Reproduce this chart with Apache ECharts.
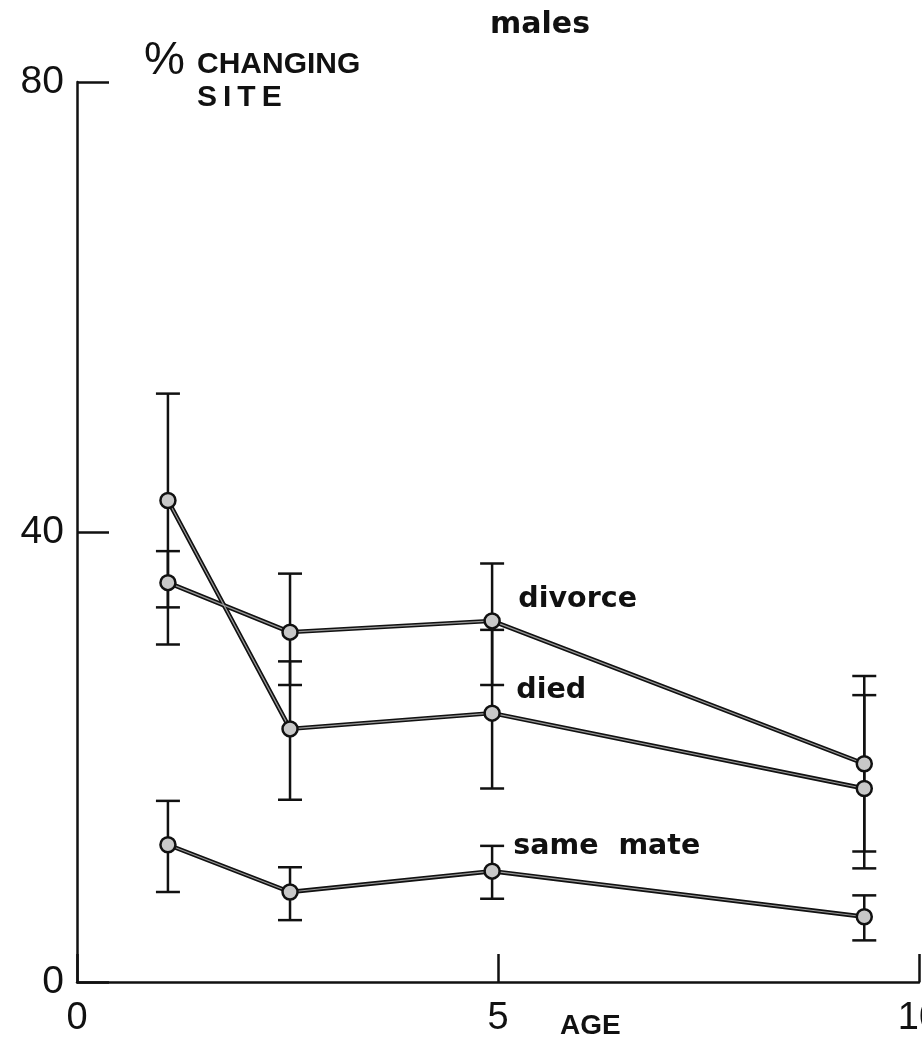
<!DOCTYPE html>
<html><head><meta charset="utf-8">
<script src="https://cdn.jsdelivr.net/npm/echarts@6/dist/echarts.min.js"></script>
<style>html,body{margin:0;padding:0;background:#fff}#c{width:922px;height:1048px}</style>
</head><body><div id="c"></div>
<script>
// ---- data ----
const ages = [1.08, 2.53, 4.93, 9.35];
const xTicks = ['0', '5', '10'];
const yTicks = ['0', '40', '80'];

const divorce     = [35.5, 31.1, 32.1, 19.4];
const divorceLow  = [30.0, 26.4, 26.4, 11.6];
const divorceHigh = [38.3, 36.3, 37.2, 27.2];

const died     = [42.8, 22.5, 23.9, 17.2];
const diedLow  = [33.3, 16.2, 17.2, 10.1];
const diedHigh = [52.3, 28.5, 31.3, 25.5];

const sameMate     = [12.2, 8.0, 9.85, 5.8];
const sameMateLow  = [8.0, 5.5, 7.4, 3.7];
const sameMateHigh = [16.1, 10.2, 12.1, 7.7];

const seriesNames = ['divorce', 'died', 'same  mate'];
// --------------------------------------

const INK = '#111';
const chart = echarts.init(document.getElementById('c'), null, {renderer: 'canvas'});

function errSeries(low, high) {
  return {
    type: 'custom', z: 2, silent: true,
    data: ages.map((a, i) => [a, low[i], high[i]]),
    encode: {x: 0, y: [1, 2]},
    renderItem(params, api) {
      const x = api.value(0);
      const lo = api.coord([x, api.value(1)]);
      const hi = api.coord([x, api.value(2)]);
      const w = 12;
      const style = {stroke: INK, lineWidth: 2.5};
      return {type: 'group', children: [
        {type: 'line', shape: {x1: lo[0], y1: lo[1], x2: hi[0], y2: hi[1]}, style},
        {type: 'line', shape: {x1: lo[0] - w, y1: lo[1], x2: lo[0] + w, y2: lo[1]}, style},
        {type: 'line', shape: {x1: hi[0] - w, y1: hi[1], x2: hi[0] + w, y2: hi[1]}, style}
      ]};
    }
  };
}

function lineSeries(vals, labelText, labelPos) {
  const data = ages.map((a, i) => {
    if (i === 2) {
      return {value: [a, vals[i]], label: {
        show: true, formatter: labelText, position: labelPos,
        align: 'left', verticalAlign: 'middle',
        fontFamily: 'DejaVu Sans', fontWeight: 'bold', fontSize: 28.5, color: INK
      }};
    }
    return [a, vals[i]];
  });
  return [
    {type: 'line', z: 3, silent: true, symbol: 'none', data: ages.map((a, i) => [a, vals[i]]),
     lineStyle: {color: INK, width: 4.5}},
    {type: 'line', z: 4, silent: true, data,
     symbol: 'circle', symbolSize: 15,
     itemStyle: {color: '#c8c8c8', borderColor: INK, borderWidth: 2.5},
     lineStyle: {color: '#999', width: 1.2}}
  ];
}

const option = {
  animation: false,
  backgroundColor: '#fff',
  grid: {left: 77, right: 3, top: 82, bottom: 66, containLabel: false, outerBoundsMode: 'none'},
  xAxis: {
    type: 'value', min: 0, max: 10, interval: 5,
    axisLine: {lineStyle: {color: INK, width: 2.5}},
    axisTick: {inside: true, length: 28, lineStyle: {color: INK, width: 2.5}},
    splitLine: {show: false},
    axisLabel: {margin: 18, fontFamily: 'Liberation Sans', fontSize: 38, color: INK,
      hideOverlap: false, formatter: v => xTicks[Math.round(v / 5)]}
  },
  yAxis: {
    type: 'value', min: 0, max: 80, interval: 40,
    axisLine: {lineStyle: {color: INK, width: 2.5}},
    axisTick: {inside: true, length: 32, lineStyle: {color: INK, width: 2.5}},
    splitLine: {show: false},
    axisLabel: {margin: 13, fontFamily: 'Liberation Sans', fontSize: 39, color: INK,
      formatter: v => yTicks[Math.round(v / 40)]}
  },
  graphic: [
    {type: 'text', left: 490, top: 10, style: {text: 'males', fontFamily: 'DejaVu Sans', fontWeight: 'bold', fontSize: 30, fill: INK}},
    {type: 'text', left: 144, top: 38, style: {text: '%', fontFamily: 'Liberation Sans', fontSize: 46, fill: INK}},
    {type: 'text', left: 197, top: 50, style: {text: 'CHANGING', fontFamily: 'Liberation Sans', fontWeight: 'bold', fontSize: 30, fill: INK}},
    {type: 'text', left: 197, top: 83, style: {text: 'S\u2009I\u2009T\u2009E', fontFamily: 'Liberation Sans', fontWeight: 'bold', fontSize: 30, fill: INK}},
    {type: 'text', left: 560, top: 1012, style: {text: 'AGE', fontFamily: 'Liberation Sans', fontWeight: 'bold', fontSize: 28, fill: INK}}
  ],
  series: [
    errSeries(divorceLow, divorceHigh),
    errSeries(diedLow, diedHigh),
    errSeries(sameMateLow, sameMateHigh),
    ...lineSeries(divorce, seriesNames[0], [35, -13]),
    ...lineSeries(died, seriesNames[1], [33, -14]),
    ...lineSeries(sameMate, seriesNames[2], [30, -16])
  ]
};
chart.setOption(option);
</script>
</body></html>
